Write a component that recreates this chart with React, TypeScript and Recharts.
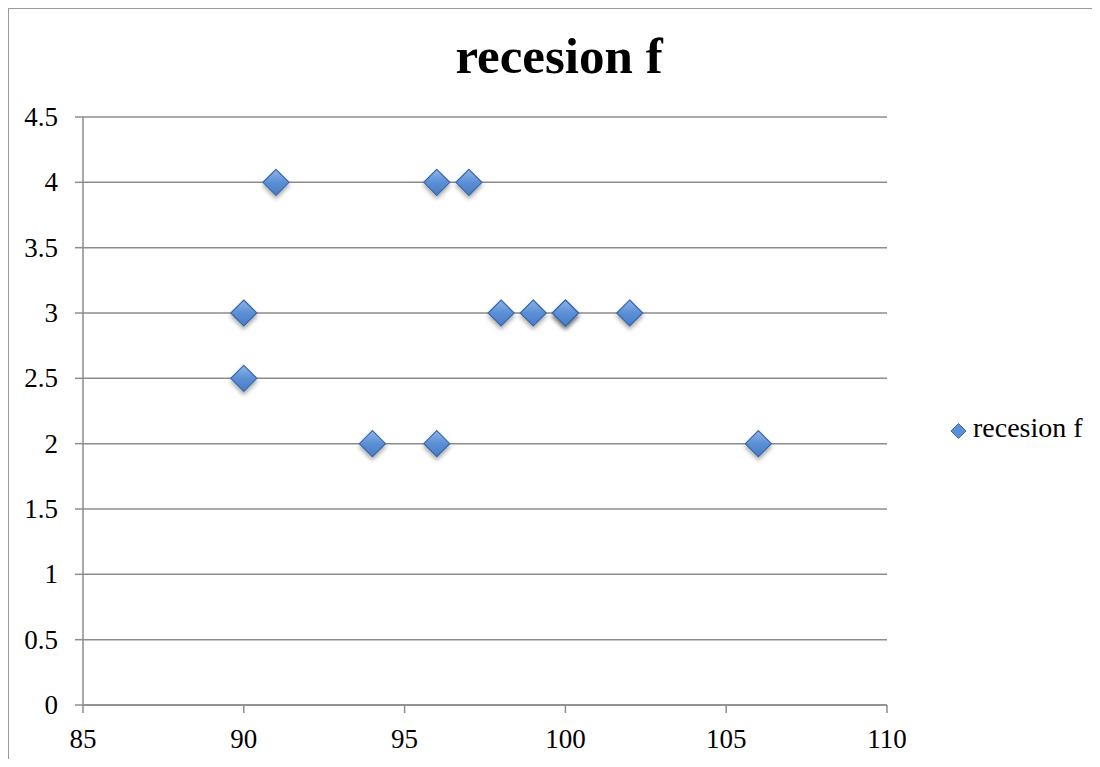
import { ScatterChart, Scatter, XAxis, YAxis, CartesianGrid } from 'recharts'

const xValues = [91, 96, 97, 90, 98, 99, 100, 100, 102, 90, 94, 96, 106]
const yValues = [4, 4, 4, 3, 3, 3, 3, 3, 3, 2.5, 2, 2, 2]
const xTicks = [85, 90, 95, 100, 105, 110]
const yTicks = [0, 0.5, 1, 1.5, 2, 2.5, 3, 3.5, 4, 4.5]
const seriesName = 'recesion f'

const points = xValues.map((x, i) => ({ x, y: yValues[i] }))

const font = '"Liberation Serif", "DejaVu Serif", serif'

const Diamond = (props: any) => {
  const { cx, cy } = props
  const r = 13
  return (
    <polygon
      points={`${cx},${cy - r} ${cx + r},${cy} ${cx},${cy + r} ${cx - r},${cy}`}
      fill="url(#diamondFill)"
      stroke="#3a68a8"
      strokeWidth={1.2}
      filter="url(#diamondShadow)"
    />
  )
}

const XTick = (props: any) => {
  const { x, y, payload } = props
  return (
    <text x={x} y={y + 33} textAnchor="middle" fontSize={27} fontFamily={font} fill="#000">
      {payload.value}
    </text>
  )
}

const YTick = (props: any) => {
  const { x, y, payload } = props
  return (
    <text x={x - 15} y={y + 9} textAnchor="end" fontSize={27} fontFamily={font} fill="#000">
      {payload.value}
    </text>
  )
}

export default function App() {
  return (
    <div style={{ margin: -8, width: 1100, height: 767, position: 'relative', background: '#fff', fontFamily: font }}>
      <div
        style={{
          position: 'absolute', left: 7, top: 7, width: 1100, height: 770,
          borderLeft: '2px solid #9a9a9a', borderTop: '2px solid #9a9a9a', boxSizing: 'border-box',
        }}
      />
      <div style={{ position: 'absolute', left: 0, top: 0 }}>
        <ScatterChart width={1100} height={767} margin={{ top: 117, right: 213, bottom: 22, left: 23 }}>
          <defs>
            <linearGradient id="diamondFill" x1="0" y1="0" x2="0" y2="1">
              <stop offset="0%" stopColor="#8fb4e8" />
              <stop offset="50%" stopColor="#5b8fd6" />
              <stop offset="100%" stopColor="#4a7cc2" />
            </linearGradient>
            <filter id="diamondShadow" x="-50%" y="-50%" width="200%" height="200%">
              <feDropShadow dx="0" dy="3" stdDeviation="2" floodColor="#000" floodOpacity="0.35" />
            </filter>
          </defs>
          <CartesianGrid vertical={false} stroke="#8c8c8c" strokeWidth={1.5} />
          <XAxis
            type="number"
            dataKey="x"
            domain={[85, 110]}
            ticks={xTicks}
            height={40}
            stroke="#8c8c8c"
            strokeWidth={1.5}
            tickSize={8}
            tick={<XTick />}
          />
          <YAxis
            type="number"
            dataKey="y"
            domain={[0, 4.5]}
            ticks={yTicks}
            width={60}
            stroke="#8c8c8c"
            strokeWidth={1.5}
            tickSize={8}
            tick={<YTick />}
          />
          <Scatter name={seriesName} data={points} shape={<Diamond />} isAnimationActive={false} />
        </ScatterChart>
      </div>
      <svg width={1100} height={767} style={{ position: 'absolute', left: 0, top: 0, pointerEvents: 'none' }}>
        <text x={559} y={73} textAnchor="middle" fontSize={51} fontWeight="bold" fontFamily={font} fill="#000">
          {seriesName}
        </text>
        <polygon points="958.5,423.5 966,431 958.5,438.5 951,431" fill="#5b8fd6" stroke="#3a68a8" strokeWidth={1} />
        <text x={973} y={437} fontSize={28} fontFamily={font} fill="#000">
          {seriesName}
        </text>
      </svg>
    </div>
  )
}
